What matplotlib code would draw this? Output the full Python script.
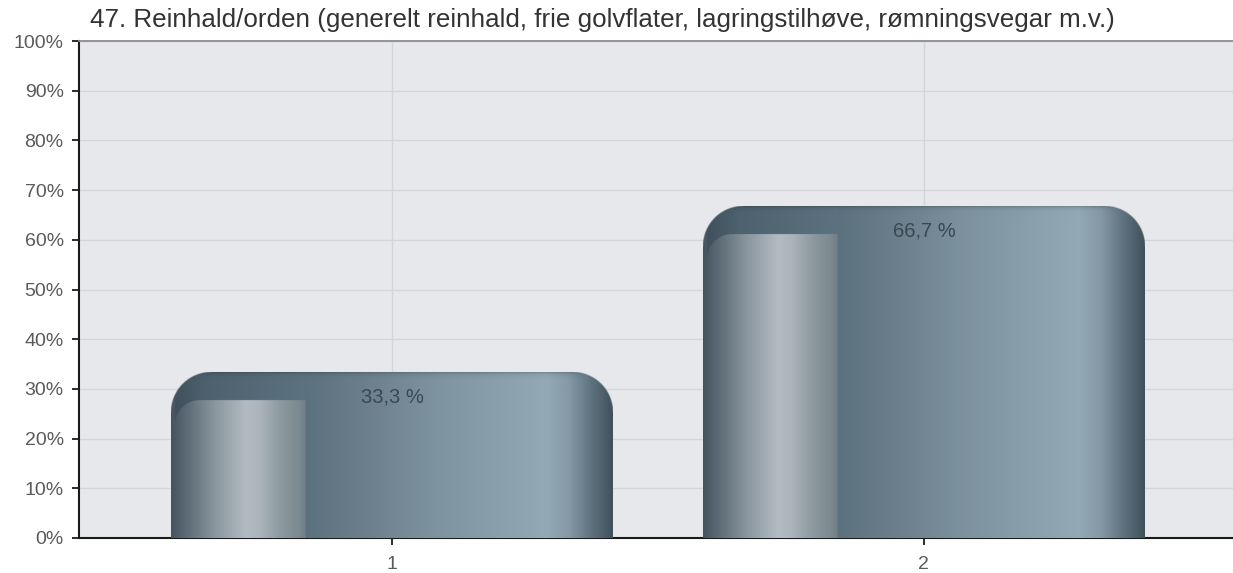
import numpy as np
import matplotlib
matplotlib.use("Agg")
import matplotlib.pyplot as plt
from matplotlib.colors import to_rgb

# ---------------- data ----------------
title = "47. Reinhald/orden (generelt reinhald, frie golvflater, lagringstilhøve, rømningsvegar m.v.)"
categories = ["1", "2"]
values = [33.3, 66.7]
value_labels = ["33,3 %", "66,7 %"]
yticks = [0, 10, 20, 30, 40, 50, 60, 70, 80, 90, 100]
ytick_labels = ["0%", "10%", "20%", "30%", "40%", "50%", "60%", "70%", "80%", "90%", "100%"]

plt.rcParams["font.family"] = ["Liberation Sans", "DejaVu Sans"]

W_PX, H_PX = 1233, 573
fig = plt.figure(figsize=(W_PX / 100, H_PX / 100), dpi=100)
ax = fig.add_axes([79 / W_PX, 1 - 538 / H_PX, 1 - 79 / W_PX, (538 - 41) / H_PX])
ax.set_facecolor("#e6e8eb")

x = np.arange(1, len(categories) + 1)
ax.set_xlim(0.4117, 2.581)
ax.set_ylim(0, 100)
bar_width = 0.83
bars = ax.bar(x, values, width=bar_width, color="none", edgecolor="none", zorder=3)

ax.set_yticks(yticks)
ax.set_yticklabels(ytick_labels)
ax.set_xticks(x)
ax.set_xticklabels(categories)

ax.set_axisbelow(True)
ax.grid(True, color="#d3d6d9", lw=1)
for s in ["left", "bottom"]:
    ax.spines[s].set_color("#1a1a1a")
    ax.spines[s].set_linewidth(1.5)
ax.spines["top"].set_color("#8c8c8c")
ax.spines["top"].set_linewidth(1.3)
ax.spines["right"].set_visible(False)
ax.tick_params(axis="both", length=5, width=1.3, color="#1a1a1a",
               labelsize=14, labelcolor="#5a5a5a", pad=6)
ax.tick_params(axis="x", pad=8)

fig.text(90 / W_PX, 1 - 20 / H_PX, title, fontsize=18.7, color="#333333",
         va="center", ha="left")

fig.canvas.draw()


def grad(stops, u):
    pos = [p for p, _ in stops]
    cols = np.array([to_rgb(c) for _, c in stops])
    return np.stack([np.interp(u, pos, cols[:, k]) for k in range(3)], axis=-1)


panel_stops = [(0.0, "#45535d"), (0.04, "#5f6e78"), (0.10, "#8a979f"),
               (0.17, "#b2bbc2"), (0.20, "#acb5bc"), (0.25, "#8b989e"),
               (0.29, "#7b8990"), (0.305, "#6f7f88"), (1.0, "#6f7f88")]
body_stops = [(0.0, "#5b717d"), (0.305, "#5b717d"), (0.45, "#6c818d"),
              (0.6, "#7d939f"), (0.75, "#8aa0ad"), (0.85, "#93a9b6"),
              (0.9, "#8599a6"), (0.95, "#5f7380"), (1.0, "#3f505a")]
band_stops = [(0.0, "#3e4f5a"), (0.08, "#4d616e"), (0.305, "#5d7280"), (1.0, "#5d7280")]

S = 2  # supersampling
for b in bars:
    x0, x1 = b.get_x(), b.get_x() + b.get_width()
    h = b.get_height()
    p0 = ax.transData.transform((x0, 0))
    p1 = ax.transData.transform((x1, h))
    wpx = p1[0] - p0[0]
    hpx = p1[1] - p0[1]
    nx, ny = int(wpx * S), int(hpx * S)
    px = (np.arange(nx) + 0.5) / S          # px from left
    d = (np.arange(ny) + 0.5) / S           # px from top
    PX, D = np.meshgrid(px, d)
    U = PX / wpx

    body = grad(body_stops, U)
    panel = grad(panel_stops, U)
    band = grad(band_stops, U)

    img = body.copy()
    left_zone = U < 0.305
    img[left_zone] = band[left_zone]

    # inner panel with rounded top-left corner
    off, pl, pr = 28.0, 4.0, 25.0
    in_panel = left_zone & (PX >= pl) & (D >= off)
    cx, cy = pl + pr, off + pr
    corner = (PX < cx) & (D < cy)
    dist = np.hypot(PX - cx, D - cy)
    in_panel &= ~(corner & (dist > pr))
    img[in_panel] = panel[in_panel]
    strip = (PX < pl) & (D >= off)
    img[strip] = panel[strip]

    # dark rim on top
    rim = 1 - 0.22 * np.exp(-D / 2.0)
    img = img * rim[..., None]

    # rounded top corners mask
    r = 40.0
    alpha = np.ones_like(U)
    for left_corner, ccx in ((True, r), (False, wpx - r)):
        zone = (D < r) & ((PX < r) if left_corner else (PX > wpx - r))
        dd = np.hypot(PX - ccx, D - r)
        a = np.clip(r - dd + 0.5, 0, 1)
        alpha[zone] = a[zone]
    rgba = np.dstack([np.clip(img, 0, 1), alpha])
    ax.imshow(rgba, extent=(x0, x1, 0, h), aspect="auto", origin="upper",
              interpolation="antialiased", zorder=3)

ax.set_xlim(0.4117, 2.581)
ax.set_ylim(0, 100)

for xi, v, lab in zip(x, values, value_labels):
    ax.annotate(lab, (xi, v), xytext=(0, -17.5), textcoords="offset points",
                ha="center", va="center", fontsize=14.5, color="#3a4852", zorder=4)

fig.savefig("out.png", dpi=100)
